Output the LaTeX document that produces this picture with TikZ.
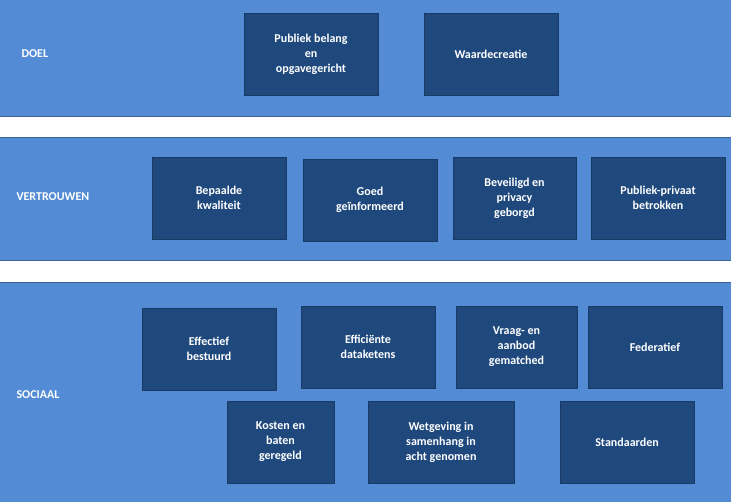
\documentclass[tikz,border=0pt]{standalone}
\usepackage{fontspec}
\setmainfont{Carlito}
\begin{document}
\begin{tikzpicture}[x=1pt,y=-1pt,
 band/.style={fill=bandc,draw=bandc!70!black,line width=0.5pt},
 box/.style={fill=boxc,draw=boxc!80!black,text=white,font=\bfseries\fontsize{12}{15}\selectfont,align=center,inner sep=0pt},
 lab/.style={text=white,font=\bfseries\fontsize{12}{15}\selectfont,anchor=west}]
\definecolor{bandc}{HTML}{538CD5}
\definecolor{boxc}{HTML}{1F497D}
\useasboundingbox (0,0) rectangle (731,501);
\fill[white] (0,0) rectangle (731,501);
\draw[band] (-1,-1) rectangle (732,116);
\draw[band] (-1,137) rectangle (732,260);
\draw[band] (-1,282) rectangle (732,502);
\node[lab] (l1) at (18,54) {DOEL};
\node[lab] (l2) at (13,197) {VERTROUWEN};
\node[lab] (l3) at (13,395) {SOCIAAL};
\newcommand\bx[6]{\node[box,minimum width=#4-#2,minimum height=#5-#3] (#1) at ({(#2+#4)/2},{(#3+#5)/2}) {#6};}
\bx{a}{244}{13}{378}{95}{Publiek belang\\en\\opgavegericht}
\bx{b}{424}{13}{558}{95}{Waardecreatie}
\bx{c}{152}{157}{286}{239}{Bepaalde\\kwaliteit}
\bx{d}{303}{159}{437}{241}{Goed\\geïnformeerd}
\bx{e}{453}{157}{576}{239}{Beveiligd en\\privacy\\geborgd}
\bx{f}{591}{157}{725}{239}{Publiek-privaat\\betrokken}
\bx{g}{142}{308}{276}{390}{Effectief\\bestuurd}
\bx{h}{301}{306}{435}{388}{Efficiënte\\dataketens}
\bx{i}{456}{306}{577}{388}{Vraag- en\\aanbod\\gematched}
\bx{j}{588}{306}{722}{388}{Federatief}
\bx{k}{227}{401}{334}{483}{Kosten en\\baten\\geregeld}
\bx{l}{368}{401}{514}{483}{Wetgeving in\\samenhang in\\acht genomen}
\bx{m}{560}{401}{694}{483}{Standaarden}
\end{tikzpicture}
\end{document}
